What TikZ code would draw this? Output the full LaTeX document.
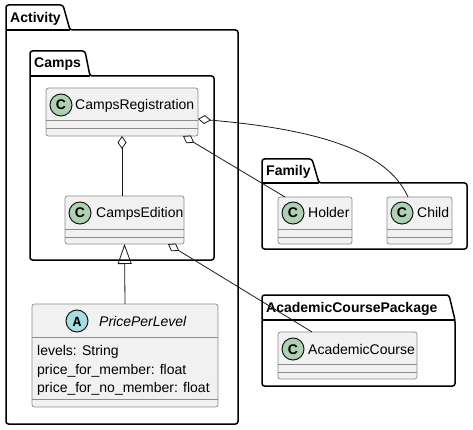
\documentclass[tikz,border=0pt]{standalone}
\usepackage{fontspec}
\setmainfont{Liberation Sans}
\setmonofont{Liberation Mono}
\usetikzlibrary{arrows.meta}
\definecolor{clsfill}{HTML}{F1F1F1}
\definecolor{clsline}{HTML}{8C8C8C}
\definecolor{inkline}{HTML}{181818}
\definecolor{spotC}{HTML}{ADD1B2}
\definecolor{spotA}{HTML}{A9DCDF}
\begin{document}
\begin{tikzpicture}[x=1pt, y=-1pt,
	pkg/.style={draw=black, line width=1.5pt, rounded corners=2.5pt},
	pkgname/.style={anchor=west, inner sep=0pt, text height=10pt, text depth=0pt, font=\fontsize{14}{16}\selectfont\bfseries},
	cls/.style={draw=clsline, fill=clsfill, line width=0.7pt, rounded corners=2.5pt, outer sep=0pt, inner sep=0pt},
	divider/.style={draw=clsline, line width=0.7pt},
	spot/.style={circle, draw=inkline, line width=1pt, minimum size=22pt, inner sep=0pt, text height=10pt, text depth=0pt, font=\fontsize{14}{16}\selectfont\bfseries},
	clsname/.style={anchor=west, inner sep=0pt, text height=10pt, text depth=0pt, font=\fontsize{14}{16}\selectfont},
	wire/.style={draw=inkline, line width=0.8pt},
	agg/.style={wire, {Diamond[open, length=13pt, width=9pt]}-},
	ext/.style={wire, -{Triangle[open, length=20pt, width=14pt]}}]
	\useasboundingbox (0,0) rectangle (473,430);
	% Packages:
	\draw[pkg] (6,424) -- (6,5) -- (63,5) -- (70,30) -- (238,30) -- (238,424) -- cycle;
	\draw[pkg] (6,30) -- (70,30);
	\node[pkgname] (activity) at (10,18) {Activity};
	\draw[pkg] (30,260) -- (30,51) -- (85,51) -- (90,76) -- (214,76) -- (214,260) -- cycle;
	\draw[pkg] (30,76) -- (90,76);
	\node[pkgname] (camps) at (34,63) {Camps};
	\draw[pkg] (262,249) -- (262,159) -- (312,159) -- (319,183) -- (467,183) -- (467,249) -- cycle;
	\draw[pkg] (262,183) -- (319,183);
	\node[pkgname] (family) at (266,171) {Family};
	\draw[pkg] (262,386) -- (262,295) -- (449,295) -- (455,320) -- (455,386) -- cycle;
	\draw[pkg] (262,320) -- (455,320);
	\node[pkgname] (acadpkg) at (266,307) {AcademicCoursePackage};
	% Classes:
	\node[cls, minimum width=152pt, minimum height=48pt] (reg) at (122,112) {};
	\draw[divider] ([yshift=-32pt]reg.north west) -- ([yshift=-32pt]reg.north east);
	\draw[divider] ([yshift=-40pt]reg.north west) -- ([yshift=-40pt]reg.north east);
	\node[spot, fill=spotC] (regspot) at (61,105) {C};
	\node[clsname] (regname) at (75,105) {CampsRegistration};
	\node[cls, minimum width=119pt, minimum height=48pt] (ed) at (124.5,220) {};
	\draw[divider] ([yshift=-33pt]ed.north west) -- ([yshift=-33pt]ed.north east);
	\draw[divider] ([yshift=-41pt]ed.north west) -- ([yshift=-41pt]ed.north east);
	\node[spot, fill=spotC] (edspot) at (80,213) {C};
	\node[clsname] (edname) at (96,213) {CampsEdition};
	\node[cls, minimum width=186pt, minimum height=103pt] (price) at (125,355.5) {};
	\draw[divider] ([yshift=-33pt]price.north west) -- ([yshift=-33pt]price.north east);
	\draw[divider] ([yshift=-95pt]price.north west) -- ([yshift=-95pt]price.north east);
	\node[spot, fill=spotA, font=\fontsize{14}{16}\selectfont\ttfamily\bfseries] (pricespot) at (77,321) {A};
	\node[clsname, font=\fontsize{14}{16}\selectfont\itshape] (pricename) at (99,321) {PricePerLevel};
	\node[clsname] (levels) at (37,350) {levels: String};
	\node[clsname] (member) at (37,369) {price\_for\_member: float};
	\node[clsname] (nomember) at (37,387) {price\_for\_no\_member: float};
	\node[cls, minimum width=74pt, minimum height=47pt] (hold) at (315,220.5) {};
	\draw[divider] ([yshift=-32pt]hold.north west) -- ([yshift=-32pt]hold.north east);
	\draw[divider] ([yshift=-40pt]hold.north west) -- ([yshift=-40pt]hold.north east);
	\node[spot, fill=spotC] (holdspot) at (293,213) {C};
	\node[clsname] (holdname) at (308,213) {Holder};
	\node[cls, minimum width=65pt, minimum height=47pt] (child) at (419.5,220.5) {};
	\draw[divider] ([yshift=-32pt]child.north west) -- ([yshift=-32pt]child.north east);
	\draw[divider] ([yshift=-40pt]child.north west) -- ([yshift=-40pt]child.north east);
	\node[spot, fill=spotC] (childspot) at (402,213) {C};
	\node[clsname] (childname) at (417,213) {Child};
	\node[cls, minimum width=139pt, minimum height=47pt] (acad) at (347.5,355.5) {};
	\draw[divider] ([yshift=-32pt]acad.north west) -- ([yshift=-32pt]acad.north east);
	\draw[divider] ([yshift=-40pt]acad.north west) -- ([yshift=-40pt]acad.north east);
	\node[spot, fill=spotC] (acadspot) at (293,349) {C};
	\node[clsname] (acadname) at (308,349) {AcademicCourse};
	% Relations:
	\draw[agg] (reg.south) -- (reg.south |- ed.north);
	\draw[agg] ([xshift=-15pt]reg.south east) -- ([xshift=7pt]hold.north west);
	\draw[agg] ([yshift=-7pt]reg.east) .. controls (300,128) and (385,145) .. ([xshift=21pt]child.north west);
	\draw[agg] ([xshift=-16pt]ed.south east) -- ([xshift=34pt]acad.north west);
	\draw[ext] (price.north) -- (ed.south);
\end{tikzpicture}
\end{document}
